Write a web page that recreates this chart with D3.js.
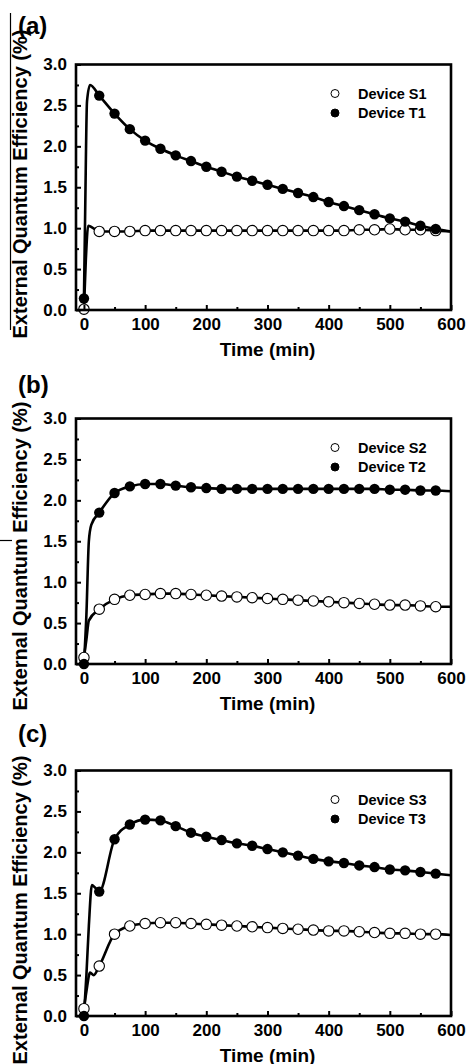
<!DOCTYPE html>
<html>
<head>
<meta charset="utf-8">
<script src="https://cdn.jsdelivr.net/npm/d3@7"></script>
<style>
  html, body { margin: 0; padding: 0; background: #fff; }
  svg { display: block; font-family: "Liberation Sans", Arial, sans-serif; font-weight: bold; }
</style>
</head>
<body>
<div id="chart"></div>
<script>
// EQE vs time, three panels (a)(b)(c), markers every 25 min

const times = [0, 25, 50, 75, 100, 125, 150, 175, 200, 225, 250, 275,
               300, 325, 350, 375, 400, 425, 450, 475, 500, 525, 550, 575];

const xTicks = [0, 100, 200, 300, 400, 500, 600];
const xMinor = [50, 150, 250, 350, 450, 550];
const yTicks = [0, 0.5, 1.0, 1.5, 2.0, 2.5, 3.0];
const yMinor = [0.25, 0.75, 1.25, 1.75, 2.25, 2.75];

// panel (a)
const s1Values = [0.01, 0.96, 0.96, 0.96, 0.97, 0.97, 0.97, 0.97, 0.97, 0.97, 0.97, 0.97,
                  0.97, 0.97, 0.97, 0.97, 0.97, 0.97, 0.98, 0.98, 0.99, 0.98, 0.98, 0.97];
const t1Values = [0.14, 2.62, 2.40, 2.21, 2.07, 1.97, 1.89, 1.82, 1.75, 1.69, 1.63, 1.58,
                  1.53, 1.48, 1.43, 1.38, 1.32, 1.27, 1.22, 1.17, 1.12, 1.08, 1.03, 0.99];
// extra knots of the measured curve between / after the markers
const s1Curve = [[3, 0.6], [7, 1.03], [600, 0.96]];
const t1Curve = [[2, 1.2], [5, 2.55], [10, 2.75], [600, 0.96]];

// panel (b)
const s2Values = [0.08, 0.67, 0.79, 0.84, 0.85, 0.86, 0.86, 0.85, 0.84, 0.83, 0.82, 0.81,
                  0.80, 0.79, 0.78, 0.77, 0.76, 0.75, 0.74, 0.73, 0.72, 0.72, 0.71, 0.70];
const t2Values = [0.00, 1.85, 2.09, 2.17, 2.20, 2.20, 2.18, 2.16, 2.15, 2.14, 2.14, 2.14,
                  2.14, 2.14, 2.14, 2.14, 2.14, 2.14, 2.14, 2.14, 2.13, 2.13, 2.12, 2.12];
const s2Curve = [[4, 0.3], [8, 0.53], [600, 0.70]];
const t2Curve = [[4, 0.6], [8, 1.5], [12, 1.70], [600, 2.11]];

// panel (c)
const s3Values = [0.09, 0.61, 1.00, 1.10, 1.13, 1.14, 1.14, 1.13, 1.12, 1.11, 1.10, 1.09,
                  1.08, 1.07, 1.06, 1.05, 1.04, 1.04, 1.03, 1.02, 1.01, 1.01, 1.00, 1.00];
const t3Values = [0.00, 1.52, 2.16, 2.34, 2.40, 2.39, 2.32, 2.24, 2.19, 2.15, 2.11, 2.08,
                  2.04, 2.00, 1.96, 1.92, 1.89, 1.87, 1.84, 1.82, 1.79, 1.78, 1.76, 1.74];
const s3Curve = [[4, 0.3], [10, 0.53], [16, 0.50], [600, 0.99]];
const t3Curve = [[4, 0.5], [8, 1.1], [13, 1.60], [18, 1.57], [600, 1.72]];

const panels = [
  { tag: '(a)', names: ['Device S1', 'Device T1'], s: s1Values, t: t1Values, sc: s1Curve, tc: t1Curve,
    top: 64.5, tagY: 34, labelY: 184 },
  { tag: '(b)', names: ['Device S2', 'Device T2'], s: s2Values, t: t2Values, sc: s2Curve, tc: t2Curve,
    top: 418.5, tagY: 393, labelY: 556 },
  { tag: '(c)', names: ['Device S3', 'Device T3'], s: s3Values, t: t3Values, sc: s3Curve, tc: t3Curve,
    top: 770.5, tagY: 742, labelY: 910 }
];

const W = 470, H = 1064;
const plotH = 245.5;
const left = 76, right = 451;

const svg = d3.select('#chart').append('svg')
  .attr('width', W).attr('height', H);

svg.append('rect').attr('width', W).attr('height', H).attr('fill', '#fff');

// stray frame line from the scanned figure
svg.append('line').attr('x1', 10.5).attr('x2', 10.5).attr('y1', 13).attr('y2', 330)
  .attr('stroke', '#000').attr('stroke-width', 1.2);
svg.append('line').attr('x1', 0).attr('x2', 12).attr('y1', 540.5).attr('y2', 540.5)
  .attr('stroke', '#000').attr('stroke-width', 1.2);

const x = d3.scaleLinear().domain([-13, 600]).range([left, right]);

panels.forEach(p => {
  const y = d3.scaleLinear().domain([0, 3]).range([p.top + plotH, p.top]);
  const g = svg.append('g');

  const line = d3.line()
    .x(d => x(d[0])).y(d => y(d[1]))
    .curve(d3.curveMonotoneX);

  const sPts = times.map((t, i) => [t, p.s[i]]);
  const tPts = times.map((t, i) => [t, p.t[i]]);
  const sLine = sPts.concat(p.sc).sort((a, b) => a[0] - b[0]);
  const tLine = tPts.concat(p.tc).sort((a, b) => a[0] - b[0]);

  [sLine, tLine].forEach(pts => {
    g.append('path').datum(pts)
      .attr('d', line)
      .attr('fill', 'none').attr('stroke', '#000')
      .attr('stroke-width', 2.6).attr('stroke-linejoin', 'round');
  });

  // open markers (S) then filled (T)
  g.selectAll('.s-dot').data(sPts).join('circle')
    .attr('class', 's-dot')
    .attr('cx', d => x(d[0])).attr('cy', d => y(d[1])).attr('r', 5.2)
    .attr('fill', '#fff').attr('stroke', '#000').attr('stroke-width', 1.1);
  g.selectAll('.t-dot').data(tPts).join('circle')
    .attr('class', 't-dot')
    .attr('cx', d => x(d[0])).attr('cy', d => y(d[1])).attr('r', 5.2)
    .attr('fill', '#000');

  // axes: ticks inside
  const xAxis = g.append('g').attr('transform', `translate(0,${p.top + plotH})`)
    .call(d3.axisBottom(x).tickValues(xTicks).tickSize(-5).tickPadding(8).tickFormat(d3.format('d')));
  g.append('g').attr('transform', `translate(0,${p.top + plotH})`)
    .call(d3.axisBottom(x).tickValues(xMinor).tickSize(-3).tickFormat(''));
  const yAxis = g.append('g').attr('transform', `translate(${left},0)`)
    .call(d3.axisLeft(y).tickValues(yTicks).tickSize(-5).tickPadding(9).tickFormat(d3.format('.1f')));
  g.append('g').attr('transform', `translate(${left},0)`)
    .call(d3.axisLeft(y).tickValues(yMinor).tickSize(-3).tickFormat(''));

  g.selectAll('.domain').remove();
  g.selectAll('.tick line').attr('stroke', '#000').attr('stroke-width', 2);
  g.selectAll('.tick text').attr('fill', '#000')
    .attr('font-size', 17).attr('font-weight', 'bold')
    .attr('font-family', '"Liberation Sans", Arial, sans-serif');

  // frame
  g.append('rect')
    .attr('x', left).attr('y', p.top)
    .attr('width', right - left).attr('height', plotH)
    .attr('fill', 'none').attr('stroke', '#000').attr('stroke-width', 2.6);

  // legend
  const lg = g.append('g');
  p.names.forEach((name, i) => {
    const ly = p.top + 29 + i * 19.5;
    lg.append('circle').attr('cx', 335).attr('cy', ly).attr('r', 4)
      .attr('fill', i === 0 ? '#fff' : '#000')
      .attr('stroke', '#000').attr('stroke-width', 1);
    lg.append('text').attr('x', 358).attr('y', ly + 5)
      .attr('font-size', 14.5).text(name);
  });

  // panel tag
  svg.append('text').attr('x', 18).attr('y', p.tagY)
    .attr('font-size', 24).text(p.tag);

  // axis titles
  svg.append('text')
    .attr('x', (left + right) / 2 + 4).attr('y', p.top + plotH + 46)
    .attr('text-anchor', 'middle').attr('font-size', 19)
    .text('Time (min)');
  svg.append('text')
    .attr('transform', `translate(27,${p.labelY}) rotate(-90)`)
    .attr('text-anchor', 'middle').attr('font-size', 20)
    .text('External Quantum Efficiency (%)');
});
</script>
</body>
</html>
